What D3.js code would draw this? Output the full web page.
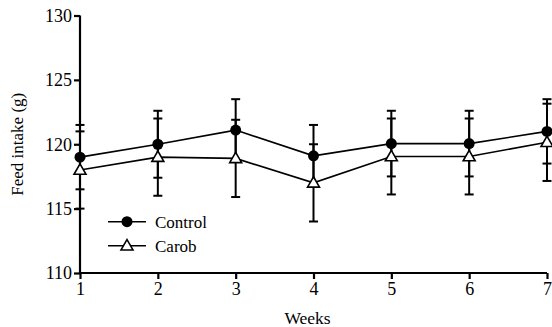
<!DOCTYPE html>
<html>
<head>
<meta charset="utf-8">
<script src="https://cdn.jsdelivr.net/npm/d3@7"></script>
<style>
  body { margin: 0; background: #fff; }
</style>
</head>
<body>
<div id="grafica"></div>
<script>
// Datos
const semanas = [1, 2, 3, 4, 5, 6, 7];
const control = [119.0, 120.0, 121.1, 119.1, 120.05, 120.05, 121.0];
const controlSem = [2.5, 2.6, 2.4, 2.4, 2.55, 2.55, 2.5];
const carob = [118.0, 119.0, 118.9, 117.0, 119.05, 119.05, 120.15];
const carobSem = [3.0, 3.0, 3.0, 3.0, 2.95, 2.95, 3.0];
const yTicks = [110, 115, 120, 125, 130];

const fuente = "'Liberation Serif', 'Times New Roman', Times, serif";
const ancho = 552, alto = 327;
const margin = {top: 15.5, right: 5, bottom: 54, left: 80};
const width = 547 - margin.left;
const height = 273 - margin.top;

const svg = d3.select("#grafica")
    .append("svg")
    .attr("width", ancho)
    .attr("height", alto)
    .style("font-family", fuente)
    .append("g")
    .attr("transform", "translate(" + margin.left + "," + margin.top + ")");

const x = d3.scaleLinear().domain([1, 7]).range([0, width]);
const y = d3.scaleLinear().domain([110, 130]).range([height, 0]);

//Ejes
const xAxis = d3.axisBottom(x).tickValues(semanas).tickSize(6).tickPadding(3).tickFormat(d3.format("d"));
const yAxis = d3.axisLeft(y).tickValues(yTicks).tickSize(6).tickPadding(2);

const gx = svg.append("g")
    .attr("transform", "translate(0," + height + ")")
    .call(xAxis);
const gy = svg.append("g").call(yAxis);

[gx, gy].forEach(function(g) {
    g.attr("font-family", null).attr("font-size", null);
    g.select(".domain").attr("stroke", "#000").attr("stroke-width", 2.2);
    g.selectAll(".tick line").attr("stroke", "#000").attr("stroke-width", 2.2);
    g.selectAll(".tick text")
        .style("font-family", fuente)
        .style("font-size", "18px")
        .attr("fill", "#000");
});
gx.select(".domain").attr("d", "M0,0H" + width);
gy.select(".domain").attr("d", "M0," + height + "V0");

//Títulos de ejes
svg.append("text")
    .attr("x", x(4) - 6)
    .attr("y", height + 51)
    .attr("text-anchor", "middle")
    .style("font-family", fuente)
    .style("font-size", "17.5px")
    .text("Weeks");

svg.append("text")
    .attr("transform", "translate(" + (-57) + "," + y(120) + ") rotate(-90)")
    .attr("text-anchor", "middle")
    .style("font-family", fuente)
    .style("font-size", "17px")
    .text("Feed intake (g)");

//Datos combinados por serie
const series = [
    {nombre: "Control", medias: control, sem: controlSem, tipo: "circulo"},
    {nombre: "Carob", medias: carob, sem: carobSem, tipo: "triangulo"}
];

const linea = d3.line()
    .x(function(d) { return x(d.semana); })
    .y(function(d) { return y(d.valor); });

const triangulo = d3.symbol().type(d3.symbolTriangle).size(62);

//Barras de error
series.forEach(function(s) {
    const datos = semanas.map(function(w, i) {
        return {semana: w, valor: s.medias[i], sem: s.sem[i]};
    });
    const eb = svg.append("g").attr("stroke", "#000").attr("stroke-width", 2);
    eb.selectAll(".barra").data(datos).enter().append("line")
        .attr("x1", function(d) { return x(d.semana); })
        .attr("x2", function(d) { return x(d.semana); })
        .attr("y1", function(d) { return y(d.valor + d.sem); })
        .attr("y2", function(d) { return y(d.valor - d.sem); });
    eb.selectAll(".capArriba").data(datos).enter().append("line")
        .attr("x1", function(d) { return x(d.semana) - 4.5; })
        .attr("x2", function(d) { return x(d.semana) + 4.5; })
        .attr("y1", function(d) { return y(d.valor + d.sem); })
        .attr("y2", function(d) { return y(d.valor + d.sem); });
    eb.selectAll(".capAbajo").data(datos).enter().append("line")
        .attr("x1", function(d) { return x(d.semana) - 4.5; })
        .attr("x2", function(d) { return x(d.semana) + 4.5; })
        .attr("y1", function(d) { return y(d.valor - d.sem); })
        .attr("y2", function(d) { return y(d.valor - d.sem); });
    s.datos = datos;
});

//Líneas y marcadores
series.forEach(function(s) {
    svg.append("path")
        .datum(s.datos)
        .attr("fill", "none")
        .attr("stroke", "#000")
        .attr("stroke-width", 1.6)
        .attr("d", linea);
});

series.forEach(function(s) {
    if (s.tipo === "circulo") {
        svg.selectAll(".punto").data(s.datos).enter().append("circle")
            .attr("cx", function(d) { return x(d.semana); })
            .attr("cy", function(d) { return y(d.valor); })
            .attr("r", 5.5)
            .attr("fill", "#000");
    } else {
        svg.selectAll(".tri").data(s.datos).enter().append("path")
            .attr("d", triangulo)
            .attr("transform", function(d) { return "translate(" + x(d.semana) + "," + (y(d.valor) + 0.8) + ")"; })
            .attr("fill", "#fff")
            .attr("stroke", "#000")
            .attr("stroke-width", 1.6);
    }
});

//Leyenda
const leyenda = svg.append("g").attr("transform", "translate(" + (108 - margin.left) + "," + (221.7 - margin.top) + ")");
series.forEach(function(s, i) {
    const g = leyenda.append("g").attr("transform", "translate(0," + (i * 24) + ")");
    g.append("line").attr("x1", 0).attr("x2", 38).attr("y1", 0).attr("y2", 0)
        .attr("stroke", "#000").attr("stroke-width", 1.6);
    if (s.tipo === "circulo") {
        g.append("circle").attr("cx", 19).attr("cy", 0).attr("r", 5.5).attr("fill", "#000");
    } else {
        g.append("path").attr("d", triangulo).attr("transform", "translate(19,0.8)")
            .attr("fill", "#fff").attr("stroke", "#000").attr("stroke-width", 1.6);
    }
    g.append("text").attr("x", 47).attr("y", 6)
        .style("font-family", fuente)
        .style("font-size", "17px")
        .text(s.nombre);
});
</script>
</body>
</html>
